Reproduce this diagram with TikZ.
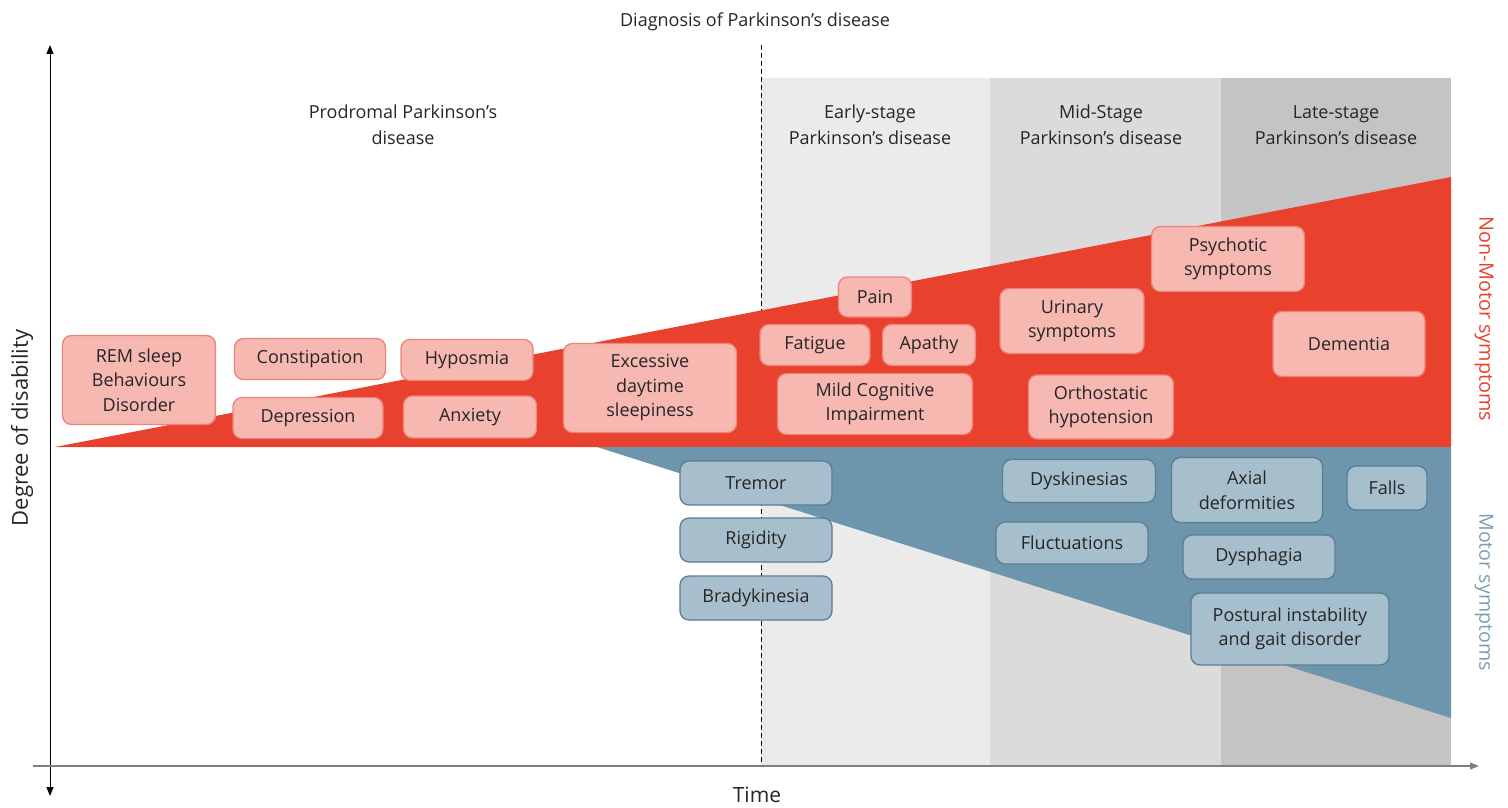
\documentclass[tikz,border=0pt]{standalone}
\usepackage{fontspec}
\setmainfont{Open Sans}
\usetikzlibrary{arrows.meta}

\definecolor{txt}{HTML}{262626}
\definecolor{stageA}{HTML}{EBEBEB}
\definecolor{stageB}{HTML}{DBDBDB}
\definecolor{stageC}{HTML}{C4C4C4}
\definecolor{nmred}{HTML}{E8412D}
\definecolor{nmfill}{HTML}{F6B8B1}
\definecolor{nmborder}{HTML}{EE8377}
\definecolor{mblue}{HTML}{6D96AD}
\definecolor{mfill}{HTML}{A7BFCC}
\definecolor{mborder}{HTML}{587E95}
\definecolor{mlabel}{HTML}{7B9EB3}
\definecolor{axisgray}{HTML}{7F7F7F}

\tikzset{
  symbox/.style={rounded corners=9pt, line width=1.3pt, align=center,
    text=txt, inner sep=0pt, font=\fontsize{18}{24.5}\selectfont},
  nonmotor/.style={symbox, draw=nmborder, fill=nmfill},
  motor/.style={symbox, draw=mborder, fill=mfill},
  stagelabel/.style={align=center, text=txt, font=\fontsize{18}{26}\selectfont},
  axisarrow/.style={-{Triangle[length=9pt,width=7pt]}},
}

\begin{document}
\begin{tikzpicture}[x=1pt,y=-1pt]
\useasboundingbox (0,0) rectangle (1508,808);

% disease stage bands
\fill[stageA] (761,78) rectangle (990,766);
\fill[stageB] (990,78) rectangle (1221,766);
\fill[stageC] (1221,78) rectangle (1451,766);

% diagnosis marker
\coordinate (diagtop) at (761,45);
\coordinate (diagbot) at (761,766);
\draw[dashed, dash pattern=on 5pt off 3pt, line width=0.9pt] (diagtop) -- (diagbot);

% symptom wedges
\fill[nmred] (55,447) -- (1451,177) -- (1451,447) -- cycle;
\fill[mblue] (597,447) -- (1451,447) -- (1451,718) -- cycle;

% axes
\coordinate (ytop) at (50,45);
\coordinate (ybot) at (50,796);
\coordinate (xleft) at (33,766);
\coordinate (xright) at (1479,766);
\draw[line width=1pt, {Triangle[length=9pt,width=7pt]}-{Triangle[length=9pt,width=7pt]}] (ybot) -- (ytop);
\draw[axisarrow, line width=1.2pt, draw=axisgray] (xleft) -- (xright);

% titles and axis labels
\node[text=txt, font=\fontsize{18}{20}\selectfont] (diag) at (755,22) {Diagnosis of Parkinson’s disease};
\node[text=txt, font=\fontsize{21}{24}\selectfont] (time) at (757,795) {Time};
\node[text=txt, font=\fontsize{22}{24}\selectfont, rotate=90] (ylab) at (22,428) {Degree of disability};
\node[text=nmred, font=\fontsize{19.8}{22}\selectfont, rotate=-90] (nmlab) at (1484,319) {Non-Motor symptoms};
\node[text=mlabel, font=\fontsize{19.6}{22}\selectfont, rotate=-90] (mlab) at (1484,592) {Motor symptoms};

% stage labels
\node[stagelabel] (prod) at (403,125) {Prodromal Parkinson’s\\disease};
\node[stagelabel] (early) at (870,125) {Early-stage\\Parkinson’s disease};
\node[stagelabel] (mid) at (1101,125) {Mid-Stage\\Parkinson’s disease};
\node[stagelabel] (late) at (1336,125) {Late-stage\\Parkinson’s disease};

% non-motor symptoms
\node[nonmotor, minimum width=153pt, minimum height=89pt] (rem) at (139,380) {REM sleep\\Behaviours\\Disorder};
\node[nonmotor, minimum width=151pt, minimum height=41pt] (const) at (310,359) {Constipation};
\node[nonmotor, minimum width=150pt, minimum height=41pt] (depr) at (308,418) {Depression};
\node[nonmotor, minimum width=132pt, minimum height=41pt] (hypo) at (467,360) {Hyposmia};
\node[nonmotor, minimum width=133pt, minimum height=42pt] (anx) at (470,417) {Anxiety};
\node[nonmotor, minimum width=173pt, minimum height=89pt] (eds) at (650,388) {Excessive\\daytime\\sleepiness};
\node[nonmotor, minimum width=73pt, minimum height=40pt] (pain) at (875,297) {Pain};
\node[nonmotor, minimum width=110pt, minimum height=41pt] (fat) at (815,345) {Fatigue};
\node[nonmotor, minimum width=93pt, minimum height=41pt] (apa) at (929,345) {Apathy};
\node[nonmotor, minimum width=195pt, minimum height=61pt] (mci) at (875,404) {Mild Cognitive\\Impairment};
\node[nonmotor, minimum width=144pt, minimum height=65pt] (uri) at (1072,321) {Urinary\\symptoms};
\node[nonmotor, minimum width=153pt, minimum height=65pt] (psy) at (1228,259) {Psychotic\\symptoms};
\node[nonmotor, minimum width=152pt, minimum height=65pt] (dem) at (1349,344) {Dementia};
\node[nonmotor, minimum width=145pt, minimum height=64pt] (orth) at (1101,407) {Orthostatic\\hypotension};

% motor symptoms
\node[motor, minimum width=152pt, minimum height=44pt] (trem) at (756,483) {Tremor};
\node[motor, minimum width=152pt, minimum height=44pt] (rig) at (756,540) {Rigidity};
\node[motor, minimum width=152pt, minimum height=44pt] (brady) at (756,598) {Bradykinesia};
\node[motor, minimum width=153pt, minimum height=43pt] (dysk) at (1079,481) {Dyskinesias};
\node[motor, minimum width=152pt, minimum height=42pt] (fluc) at (1072,543) {Fluctuations};
\node[motor, minimum width=151pt, minimum height=65pt] (axial) at (1247,490) {Axial\\deformities};
\node[motor, minimum width=80pt, minimum height=44pt] (falls) at (1387,488) {Falls};
\node[motor, minimum width=152pt, minimum height=44pt] (dysph) at (1259,557) {Dysphagia};
\node[motor, minimum width=198pt, minimum height=72pt] (pigd) at (1290,629) {Postural instability\\and gait disorder};

\end{tikzpicture}
\end{document}
